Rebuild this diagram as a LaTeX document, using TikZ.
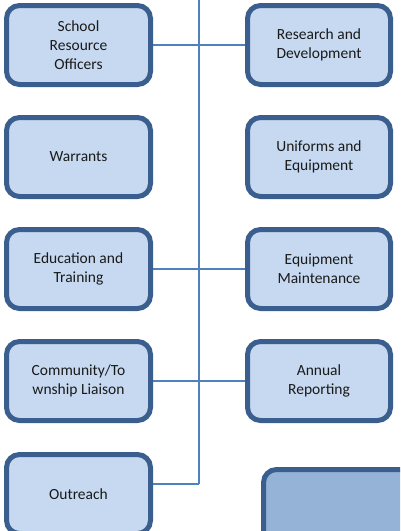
\documentclass[tikz,border=0pt]{standalone}
\usepackage{fontspec}
\setmainfont{Carlito}
\definecolor{boxfill}{HTML}{C6D9F1}
\definecolor{boxdraw}{HTML}{3A5F8E}
\definecolor{linkcol}{HTML}{4F81BD}
\definecolor{darkfill}{HTML}{95B3D7}
\definecolor{txt}{HTML}{1A1A1A}
\tikzset{
  orgbox/.style={draw=boxdraw, fill=boxfill, line width=5pt, rounded corners=13pt,
    minimum height=79pt, align=center, text=txt,
    font=\fontsize{15.5pt}{19pt}\selectfont, inner sep=0pt},
  leftbox/.style={orgbox, minimum width=144pt},
  rightbox/.style={orgbox, minimum width=143pt},
  link/.style={draw=linkcol, line width=1.6pt}
}
\begin{document}
\begin{tikzpicture}[x=1pt,y=1pt]
\useasboundingbox (0,0) rectangle (400,-531);
\clip (0,0) rectangle (400,-531);
% connectors first
\coordinate (top) at (199,0);
\coordinate (bot) at (199,-484);
\draw[link] (top) -- (bot);
\node[leftbox] (sro) at (78.5,-45) {School\\Resource\\Officers};
\node[rightbox] (rd) at (319,-45) {Research and\\Development};
\node[leftbox] (war) at (78.5,-157) {Warrants};
\node[rightbox] (uni) at (319,-157) {Uniforms and\\Equipment};
\node[leftbox] (edu) at (78.5,-269) {Education and\\Training};
\node[rightbox] (mnt) at (319,-269) {Equipment\\Maintenance};
\node[leftbox] (com) at (78.5,-381) {Community/To\\wnship Liaison};
\node[rightbox] (ann) at (319,-381) {Annual\\Reporting};
\node[leftbox] (out) at (78.5,-494) {Outreach};
\node[orgbox, fill=darkfill, minimum width=150pt] (extra) at (338.5,-509) {};
\begin{scope}[on background layer/.try]
\end{scope}
\draw[link] (sro.east) -- (rd.west);
\draw[link] (edu.east) -- (mnt.west);
\draw[link] (com.east) -- (ann.west);
\draw[link] (out.east |- bot) -- (bot);
\end{tikzpicture}
\end{document}
